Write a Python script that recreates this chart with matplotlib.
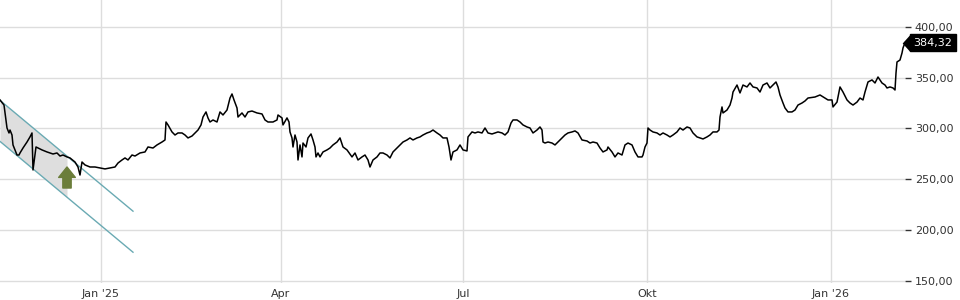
import numpy as np
import pandas as pd
import matplotlib
matplotlib.use('Agg')
import matplotlib.pyplot as plt
import matplotlib.transforms as mtransforms

# price series (days counted from 2025-01-01)
days = [-50.5, -48.5, -47, -46, -45.5, -44.5, -44, -43, -42, -41, -40.5, -39, -37, -35.5, -34.5,
        -34, -32.5, -31.5, -29.5, -27, -25.5, -24, -22, -20.5, -19, -17, -15.5, -13, -11.5, -10.5,
        -9.5, -8, -5.5, -3, -0.5, 2, 4.5, 7, 8.5, 10.5, 12, 13.5, 15.5, 17, 19.5, 22, 23.5, 26, 28,
        30.5, 32, 32.5, 33.5, 35.5, 37, 38.5, 40.5, 42, 43.5, 45.5, 47, 48.5, 50, 51, 52.5, 53.5,
        54.5, 56, 58, 59.5, 61, 63, 64.5, 65.5, 66.5, 68, 68.5, 70.5, 72, 73.5, 75.5, 78, 80.5, 82,
        83.5, 86, 88, 88.5, 90.5, 91, 93, 94, 94.5, 95.5, 96, 97, 98, 98.5, 99.5, 100.5, 101, 102.5,
        103.5, 105, 106, 107, 107.5, 108.5, 109.5, 111, 113, 114.5, 116, 118, 119.5, 121, 123,
        125.5, 127, 128.5, 130.5, 132, 133.5, 134.5, 136, 138, 139.5, 141, 143, 144.5, 146, 148,
        149.5, 151, 153, 154.5, 156, 158, 159.5, 161, 163, 164.5, 166, 168, 169.5, 171, 173, 174,
        175, 176, 178, 179.5, 181, 183, 183.5, 185.5, 187, 188.5, 190.5, 192, 193.5, 195.5, 197,
        198.5, 200.5, 202, 203.5, 205, 206, 208, 209.5, 211, 213, 214.5, 216, 218, 219.5, 220.5,
        221, 222, 223.5, 225.5, 227, 228.5, 230.5, 232, 233.5, 235.5, 237, 238.5, 240.5, 243,
        244.5, 246, 248, 249.5, 251, 253, 253.5, 255.5, 257, 258.5, 260.5, 262, 263.5, 265.5, 267,
        268.5, 270.5, 271, 272, 273, 273.5, 274.5, 276, 278, 279.5, 281, 283, 284.5, 286, 288,
        289.5, 291, 293, 294.5, 296, 298, 299.5, 301, 303, 304.5, 306, 308, 309, 309.5, 310.5, 311,
        313, 314.5, 315.5, 316, 318, 319.5, 321, 323, 324.5, 326, 328, 329.5, 331, 333, 334.5, 336,
        337.5, 338.5, 339.5, 341, 342, 343.5, 345.5, 347, 348.5, 350.5, 352, 353.5, 357, 359.5,
        362, 363.5, 365.5, 366, 368, 369.5, 371, 373, 374.5, 376, 378, 379.5, 381, 382, 383.5,
        385.5, 387, 388.5, 390.5, 392, 393, 394.5, 396, 397, 397.5, 398, 399.5, 400.5, 401, 402]

price = [328.0, 323.0, 300.4, 295.5, 298.4, 293.5, 283.7, 278.8, 273.8, 273.8, 275.8, 280.7, 286.6,
         291.6, 295.5, 259.1, 281.7, 280.7, 278.8, 276.8, 275.8, 274.8, 275.8, 272.8, 273.8, 271.9,
         270.9, 266.9, 262.0, 254.1, 266.9, 264.0, 262.0, 262.0, 261.0, 260.1, 261.0, 262.0, 265.9,
         268.9, 270.9, 268.9, 273.8, 272.8, 275.8, 276.8, 281.7, 280.7, 283.7, 286.6, 288.6, 306.3,
         303.4, 296.5, 293.5, 295.5, 295.5, 293.5, 290.6, 292.5, 295.5, 298.4, 303.4, 311.2, 316.2,
         310.3, 306.3, 308.3, 306.3, 316.2, 313.2, 318.1, 329.9, 333.9, 328.0, 320.1, 311.2, 315.2,
         311.2, 316.2, 317.1, 315.2, 314.2, 308.3, 306.3, 306.3, 308.3, 313.2, 310.3, 303.4, 310.3,
         306.3, 296.5, 290.6, 281.7, 293.5, 286.6, 268.9, 283.7, 271.9, 285.6, 281.7, 290.6, 294.5,
         288.6, 281.7, 271.9, 275.8, 271.9, 276.8, 278.8, 280.7, 283.7, 286.6, 290.6, 281.7, 278.8,
         271.9, 275.8, 268.9, 271.9, 273.8, 268.9, 262.0, 268.9, 271.9, 275.8, 275.8, 273.8, 270.9,
         276.8, 280.7, 283.7, 286.6, 288.6, 290.6, 288.6, 290.6, 291.6, 293.5, 295.5, 296.5, 298.4,
         295.5, 293.5, 290.6, 290.6, 281.7, 268.9, 276.8, 278.8, 283.7, 278.8, 277.8, 291.6, 296.5,
         295.5, 296.5, 295.5, 300.4, 295.5, 294.5, 295.5, 296.5, 295.5, 293.5, 296.5, 305.3, 308.3,
         308.3, 306.3, 303.4, 301.4, 300.4, 295.5, 298.4, 301.4, 298.4, 286.6, 285.6, 286.6, 285.6,
         283.7, 286.6, 290.6, 293.5, 295.5, 296.5, 297.5, 295.5, 288.6, 287.6, 285.6, 286.6, 285.6,
         280.7, 276.8, 278.8, 281.7, 276.8, 271.9, 275.8, 273.8, 283.7, 285.6, 283.7, 276.8, 271.9,
         271.9, 273.8, 281.7, 285.6, 300.4, 298.4, 296.5, 295.5, 293.5, 295.5, 293.5, 291.6, 293.5,
         296.5, 300.4, 298.4, 301.4, 300.4, 295.5, 291.6, 290.6, 289.6, 291.6, 293.5, 296.5, 296.5,
         298.4, 311.2, 321.1, 315.2, 318.1, 323.0, 329.9, 335.8, 342.7, 334.9, 342.7, 340.8, 344.7,
         340.8, 339.8, 335.8, 342.7, 344.7, 339.8, 342.7, 345.7, 340.8, 332.9, 325.0, 320.1, 316.2,
         316.2, 318.1, 323.0, 325.0, 327.0, 329.9, 330.9, 332.9, 329.9, 328.0, 328.0, 321.1, 325.9,
         340.8, 335.8, 328.0, 325.0, 323.0, 325.9, 329.9, 328.0, 335.8, 345.7, 347.7, 344.7, 350.6,
         344.7, 342.7, 339.8, 340.8, 339.8, 337.8, 354.5, 365.4, 367.3, 374.2, 379.2, 384.32]

start = pd.Timestamp('2025-01-01')
dates = start + pd.to_timedelta(days, unit='D')

# downtrend channel (days, upper, lower)
channel_days = [-50.5, 16]
channel_upper = [327.6, 218.5]
channel_lower = [287.2, 178.1]
fill_end = -17
arrow_day = -17
arrow_from, arrow_to = 241.3, 262.0

tick_dates = ['2025-01-01', '2025-04-01', '2025-07-01', '2025-10-01', '2026-01-01']
tick_labels = ["Jan '25", 'Apr', 'Jul', 'Okt', "Jan '26"]
yticks = [150, 200, 250, 300, 350, 400]

fig = plt.figure(figsize=(9.6, 3.0), dpi=100)
ax = fig.add_axes([0, 0.0567, 905 / 960, 0.9433])

# channel
ch_dates = start + pd.to_timedelta(channel_days, unit='D')
fx = np.linspace(channel_days[0], fill_end, 20)
fu = np.interp(fx, channel_days, channel_upper)
fl = np.interp(fx, channel_days, channel_lower)
ax.fill_between(start + pd.to_timedelta(fx, unit='D'), fl, fu, color='#dedede', lw=0, zorder=1)
ax.plot(ch_dates, channel_upper, color='#6aaab3', lw=1, zorder=2)
ax.plot(ch_dates, channel_lower, color='#6aaab3', lw=1, zorder=2)

ax.plot(dates, price, color='black', lw=1.1, zorder=3)

arrow_x = start + pd.Timedelta(days=arrow_day)
ax.annotate('', xy=(arrow_x, arrow_to), xytext=(arrow_x, arrow_from),
            arrowprops=dict(arrowstyle='simple,head_length=0.75,head_width=1.2,tail_width=0.6',
                            color='#6b7d3a', shrinkA=0, shrinkB=0, mutation_scale=10), zorder=4)

ax.set_xlim(start + pd.Timedelta(days=-50.5), start + pd.Timedelta(days=402))
ax.set_ylim(147.8, 426.4)

ax.set_xticks(pd.to_datetime(tick_dates))
ax.set_xticklabels(tick_labels)
ax.set_yticks(yticks)
ax.set_yticklabels(['{:.2f}'.format(v).replace('.', ',') for v in yticks])
ax.yaxis.tick_right()
ax.tick_params(axis='y', length=4, width=1, color='#333333', labelcolor='#333333', labelsize=8, pad=3)
ax.tick_params(axis='x', length=0, labelcolor='#333333', labelsize=8, pad=4)
for s in ax.spines.values():
    s.set_visible(False)
ax.grid(True, color='#dddddd', lw=1)
ax.set_axisbelow(True)

# last price flag: pointer + black box
trans = mtransforms.blended_transform_factory(ax.transAxes, ax.transData)
pointer = [(-0.9, 0), (0, 1), (0, -1)]
ax.plot([1.0057], [price[-1]], transform=trans, marker=pointer, markersize=12.5,
        color='black', mew=0, clip_on=False, zorder=5)
ax.text(1.0094, price[-1], '{:.2f}'.format(price[-1]).replace('.', ','), transform=trans,
        ha='left', va='center', color='white', fontsize=8,
        bbox=dict(boxstyle='square,pad=0.32', fc='black', ec='black'), clip_on=False, zorder=5)

fig.savefig('out.png', dpi=100)
